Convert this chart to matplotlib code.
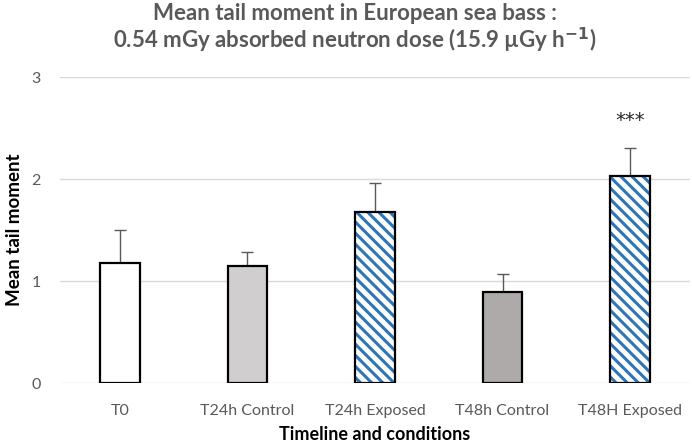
import matplotlib.pyplot as plt
import numpy as np

plt.rcParams['font.family'] = ['Lato', 'DejaVu Sans']
plt.rcParams['hatch.linewidth'] = 2.2

conditions = ["T0", "T24h Control", "T24h Exposed", "T48h Control", "T48H Exposed"]
mean_tail = [1.18, 1.15, 1.675, 0.89, 2.03]
err_up = [0.32, 0.14, 0.29, 0.18, 0.27]
fills = ["white", "#d0cece", "white", "#aeaaaa", "white"]
hatched = [False, False, True, False, True]

fig = plt.figure(figsize=(6.92, 4.47), dpi=100)
ax = fig.add_axes([60 / 692, 1 - 383.3 / 447, 630 / 692, 306.3 / 447])

x = np.arange(len(conditions))
w = 0.31

# fill + hatch first (blue hatch), then black outline on top
for i in x:
    if hatched[i]:
        ax.bar(i, mean_tail[i], w, color="white", edgecolor="#2e75b6",
               hatch="\\\\\\", linewidth=0, zorder=2)
    else:
        ax.bar(i, mean_tail[i], w, color=fills[i], linewidth=0, zorder=2)
ax.bar(x, mean_tail, w, fill=False, edgecolor="black", linewidth=1.6, zorder=3)

ax.errorbar(x, mean_tail, yerr=[np.zeros(len(x)), err_up], fmt="none",
            ecolor="#595959", elinewidth=1, capsize=4, capthick=1, zorder=1)

ax.text(4, 2.57, "***", ha="center", va="center", fontsize=14,
        family="DejaVu Sans", color="#262626")

ax.set_ylim(0, 3)
ax.set_xlim(-0.47, 4.47)
ax.set_yticks([0, 1, 2, 3])
ax.set_xticks(x)
ax.set_xticklabels(conditions)
ax.grid(axis="y", color="#d9d9d9", linewidth=1, zorder=0)
ax.set_axisbelow(True)
for s in ax.spines.values():
    s.set_visible(False)
ax.tick_params(length=0, labelsize=11.5, labelcolor="#595959")
ax.tick_params(axis="x", pad=15)
ax.tick_params(axis="y", pad=14)

ax.set_xlabel("Timeline and conditions", fontsize=13, fontweight="bold", labelpad=6)
ax.set_ylabel("Mean tail moment", fontsize=13.5, fontweight="bold", labelpad=6)

fig.text(355 / 692, 1 - 13 / 447, "Mean tail moment in European sea bass :",
         ha="center", va="center", fontsize=16, fontweight="bold", color="#595959")
fig.text(355 / 692, 1 - 40 / 447, "0.54 mGy absorbed neutron dose (15.9 \u00b5Gy h$^{\\mathbf{-1}}$)",
         ha="center", va="center", fontsize=16, fontweight="bold", color="#595959")

fig.savefig("out.png", dpi=100)
